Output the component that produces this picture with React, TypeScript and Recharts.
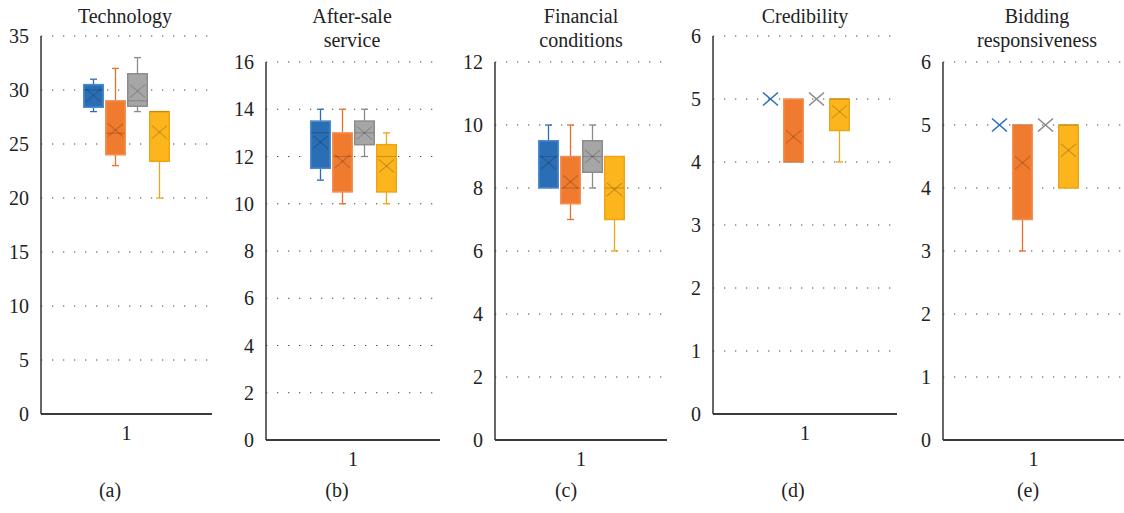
import React from "react";
import { BarChart, Bar, XAxis, YAxis, CartesianGrid } from "recharts";

// each row: [min, q1, median, q3, max, mean]
type Stat = number[];

const seriesKeys = ["s0", "s1", "s2", "s3"];
const fillColors = ["#2a6fb6", "#f07b2f", "#a6a6a6", "#fcb51c"];
const lineColors = ["#2a6fb6", "#e6702c", "#8a8a8a", "#eda516"];
const edgeColors = ["#4d8ccc", "#f39055", "#8c8c8c", "#eda516"];

const technology: Stat[] = [
  [28, 28.4, 30, 30.5, 31, 29.5],
  [23, 24, 26, 29, 32, 26.3],
  [28, 28.5, 29, 31.5, 33, 29.9],
  [20, 23.4, 28, 28, 28, 26.1],
];
const afterSale: Stat[] = [
  [11, 11.5, 13, 13.5, 14, 12.6],
  [10, 10.5, 12, 13, 14, 11.8],
  [12, 12.5, 13, 13.5, 14, 13],
  [10, 10.5, 12, 12.5, 13, 11.6],
];
const financial: Stat[] = [
  [8, 8, 9, 9.5, 10, 8.8],
  [7, 7.5, 8, 9, 10, 8.2],
  [8, 8.5, 9, 9.5, 10, 9],
  [6, 7, 8, 9, 9, 7.95],
];
const credibility: Stat[] = [
  [5, 5, 5, 5, 5, 5],
  [4, 4, 4, 5, 5, 4.4],
  [5, 5, 5, 5, 5, 5],
  [4, 4.5, 5, 5, 5, 4.8],
];
const bidding: Stat[] = [
  [5, 5, 5, 5, 5, 5],
  [3, 3.5, 5, 5, 5, 4.4],
  [5, 5, 5, 5, 5, 5],
  [4, 4, 5, 5, 5, 4.6],
];

const techTicks = [0, 5, 10, 15, 20, 25, 30, 35];
const afterTicks = [0, 2, 4, 6, 8, 10, 12, 14, 16];
const finTicks = [0, 2, 4, 6, 8, 10, 12];
const scoreTicks = [0, 1, 2, 3, 4, 5, 6];

const font = "'Liberation Serif', 'Times New Roman', serif";

const panels = [
  { title: ["Technology"], caption: "(a)", stats: technology, ticks: techTicks, left: 0, axisX: 41, right: 212, top: 36, bottom: 414, titleX: 125, captionX: 110, gap: 1 },
  { title: ["After-sale", "service"], caption: "(b)", stats: afterSale, ticks: afterTicks, left: 226, axisX: 266, right: 440, top: 62, bottom: 440, titleX: 352, captionX: 337, gap: 1 },
  { title: ["Financial", "conditions"], caption: "(c)", stats: financial, ticks: finTicks, left: 455, axisX: 495, right: 667, top: 62, bottom: 440, titleX: 581, captionX: 566, gap: 1 },
  { title: ["Credibility"], caption: "(d)", stats: credibility, ticks: scoreTicks, left: 683, axisX: 713, right: 897, top: 36, bottom: 414, titleX: 805, captionX: 793, gap: 2 },
  { title: ["Bidding", "responsiveness"], caption: "(e)", stats: bidding, ticks: scoreTicks, left: 910, axisX: 943, right: 1124, top: 62, bottom: 440, titleX: 1037, captionX: 1028, gap: 2 },
];

function BoxShape(props: any) {
  const { x, y, width, height, stat, idx } = props;
  const [min, q1, med, q3, max, mean] = stat;
  const base = y + height;
  const k = height / max;
  const py = (v: number) => base - v * k;
  const cx = x + width / 2;
  const cap = 3.5;
  const line = lineColors[idx];
  const collapsed = q3 - q1 < 1e-9;
  const mx = py(mean);
  return (
    <g>
      {max > q3 && (
        <g stroke={line} strokeWidth={1.3}>
          <line x1={cx} x2={cx} y1={py(max)} y2={py(q3)} />
          <line x1={cx - cap} x2={cx + cap} y1={py(max)} y2={py(max)} />
        </g>
      )}
      {min < q1 && (
        <g stroke={line} strokeWidth={1.3}>
          <line x1={cx} x2={cx} y1={py(q1)} y2={py(min)} />
          <line x1={cx - cap} x2={cx + cap} y1={py(min)} y2={py(min)} />
        </g>
      )}
      {!collapsed && (
        <rect
          x={x + 0.75}
          y={py(q3)}
          width={width - 1.5}
          height={py(q1) - py(q3)}
          fill={fillColors[idx]}
          stroke={edgeColors[idx]}
          strokeWidth={1.5}
        />
      )}
      {!collapsed && (
        <line x1={x + 1} x2={x + width - 1} y1={py(med)} y2={py(med)} stroke="rgba(0,0,0,0.18)" strokeWidth={1.2} />
      )}
      <g stroke={collapsed ? line : "rgba(0,0,0,0.18)"} strokeWidth={collapsed ? 1.6 : 1.2}>
        <line x1={cx - 7.5} x2={cx + 7.5} y1={mx - 6.5} y2={mx + 6.5} />
        <line x1={cx - 7.5} x2={cx + 7.5} y1={mx + 6.5} y2={mx - 6.5} />
      </g>
    </g>
  );
}

function Panel({ p }: { p: (typeof panels)[number] }) {
  const yMax = p.ticks[p.ticks.length - 1];
  const row: Record<string, any> = { name: "1" };
  p.stats.forEach((s, i) => {
    row[seriesKeys[i]] = [0, s[4]];
  });
  const tickStyle = { fontSize: 20, fontFamily: font, fill: "#222" };
  return (
    <div style={{ position: "absolute", left: p.left, top: 0, fontFamily: font }}>
      <BarChart
        width={p.right - p.left}
        height={p.bottom + 45}
        data={[row]}
        margin={{ top: p.top, right: 0, bottom: 5, left: 0 }}
        barGap={p.gap}
        style={{ fontFamily: font }}
      >
        <CartesianGrid vertical={false} stroke="#444" strokeDasharray="1.3 9.7" />
        <XAxis
          dataKey="name"
          height={40}
          tickLine={false}
          axisLine={{ stroke: "#3a3a3a", strokeWidth: 2 }}
          tick={tickStyle}
          tickMargin={6}
        />
        <YAxis
          width={p.axisX - p.left}
          domain={[0, yMax]}
          ticks={p.ticks}
          interval={0}
          tickLine={false}
          axisLine={{ stroke: "#333", strokeWidth: 1.5 }}
          tick={tickStyle}
          tickMargin={6}
        />
        {seriesKeys.map((key, i) => (
          <Bar
            key={key}
            dataKey={key}
            barSize={21}
            isAnimationActive={false}
            shape={(sp: any) => <BoxShape {...sp} stat={p.stats[i]} idx={i} />}
          />
        ))}
      </BarChart>
      <div
        style={{
          position: "absolute",
          left: p.titleX - p.left - 100,
          top: 4,
          width: 200,
          textAlign: "center",
          fontFamily: font,
          fontSize: 20,
          lineHeight: "24px",
          color: "#222",
        }}
      >
        {p.title.map((t) => (
          <div key={t}>{t}</div>
        ))}
      </div>
      <div
        style={{
          position: "absolute",
          left: p.captionX - p.left - 30,
          top: 479,
          width: 60,
          textAlign: "center",
          fontFamily: font,
          fontSize: 20,
          color: "#222",
        }}
      >
        {p.caption}
      </div>
    </div>
  );
}

export default function App() {
  return (
    <div style={{ position: "absolute", left: 0, top: 0, width: 1124, height: 513, background: "#fff", overflow: "hidden" }}>
      {panels.map((p) => (
        <Panel key={p.caption} p={p} />
      ))}
    </div>
  );
}
